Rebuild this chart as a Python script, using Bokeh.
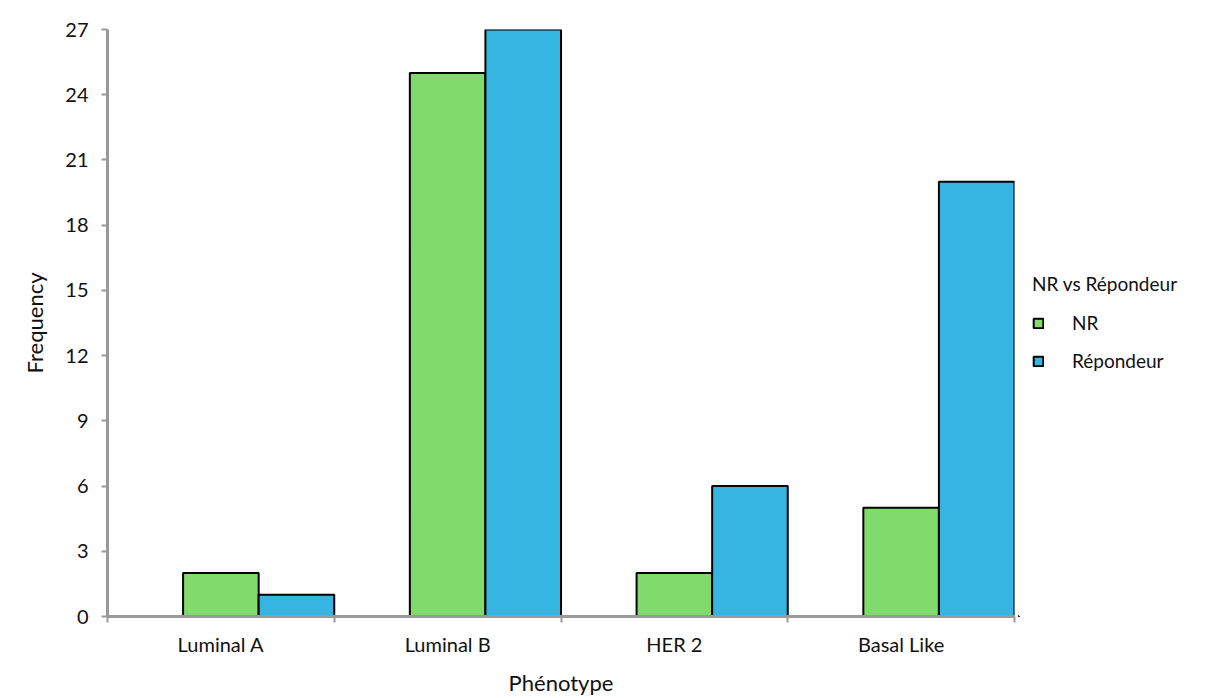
from bokeh.plotting import figure
from bokeh.models import FixedTicker, Legend, LegendItem, Range1d
from bokeh.layouts import row
from bokeh.embed import file_html
from bokeh.resources import INLINE

categories = ["Luminal A", "Luminal B", "HER 2", "Basal Like"]
nr_values = [2, 25, 2, 5]
rep_values = [1, 27, 6, 20]
y_ticks = [0, 3, 6, 9, 12, 15, 18, 21, 24, 27]
series_names = ["NR", "Répondeur"]
colors = ["#80DA6C", "#35B6E2"]

FONT = "Lato"
idx = list(range(len(categories)))
bar_w = 1 / 3

p = figure(width=1018, height=698, output_backend="svg", toolbar_location=None,
           x_range=Range1d(-0.5, len(categories) - 0.5), y_range=Range1d(0, 27),
           min_border_left=107, min_border_top=29, min_border_right=4, min_border_bottom=80)
p.grid.visible = False
p.outline_line_color = None
p.background_fill_color = "white"
p.border_fill_color = "white"

bar_style = dict(width=bar_w, line_color="black", line_width=2)
p.vbar(x=idx, top=nr_values, fill_color=colors[0], **bar_style)
p.vbar(x=[i + bar_w for i in idx], top=rep_values, fill_color=colors[1], **bar_style)

xa = p.xaxis[0]
xa.ticker = FixedTicker(ticks=idx, minor_ticks=[i - 0.5 for i in idx] + [len(idx) - 0.5])
xa.major_label_overrides = {i: c for i, c in zip(idx, categories)}
xa.major_tick_line_color = None
xa.minor_tick_line_color = "#999999"
xa.minor_tick_line_width = 2
xa.minor_tick_out = 6
xa.minor_tick_in = 0
xa.axis_label = "Phénotype"

ya = p.yaxis[0]
ya.ticker = FixedTicker(ticks=y_ticks)
ya.major_tick_line_color = "#999999"
ya.major_tick_line_width = 2
ya.major_tick_out = 6
ya.major_tick_in = 0
ya.minor_tick_line_color = None
ya.axis_label = "Frequency"

for ax in (xa, ya):
    ax.axis_line_color = "#999999"
    ax.axis_line_width = 3
    ax.major_label_text_font = FONT
    ax.major_label_text_font_size = "20px"
    ax.major_label_text_color = "#111111"
    ax.axis_label_text_font = FONT
    ax.axis_label_text_font_size = "22px"
    ax.axis_label_text_font_style = "normal"
    ax.axis_label_text_color = "#111111"
xa.major_label_standoff = 9
xa.axis_label_standoff = 10
ya.major_label_standoff = 13
ya.axis_label_standoff = 14

# legend panel: a second figure whose frame shows no data (bars fall outside its ranges)
pl = figure(width=195, height=698, output_backend="svg", toolbar_location=None,
            x_range=Range1d(100, 101), y_range=Range1d(100, 101),
            x_axis_location=None, y_axis_location=None,
            min_border_left=0, min_border_right=0, min_border_top=0, min_border_bottom=0)
pl.grid.visible = False
pl.outline_line_color = None
pl.background_fill_color = "white"
pl.border_fill_color = "white"
l1 = pl.vbar(x=idx, top=nr_values, fill_color=colors[0], **bar_style)
l2 = pl.vbar(x=[i + bar_w for i in idx], top=rep_values, fill_color=colors[1], **bar_style)

legend = Legend(items=[LegendItem(label=series_names[0], renderers=[l1]),
                       LegendItem(label=series_names[1], renderers=[l2])],
                title="NR vs Répondeur", location=(14, 244))
legend.title_text_font = FONT
legend.title_text_font_size = "19px"
legend.title_text_font_style = "normal"
legend.title_text_color = "#111111"
legend.title_standoff = 16
legend.label_text_font = FONT
legend.label_text_font_size = "19px"
legend.label_text_color = "#111111"
legend.glyph_width = 12
legend.glyph_height = 12
legend.label_standoff = 28
legend.spacing = 15
legend.border_line_color = None
legend.background_fill_alpha = 0
legend.margin = 0
legend.padding = 4
pl.add_layout(legend, "center")

layout = row(p, pl)
open("out.html", "w").write(file_html(layout, INLINE))
